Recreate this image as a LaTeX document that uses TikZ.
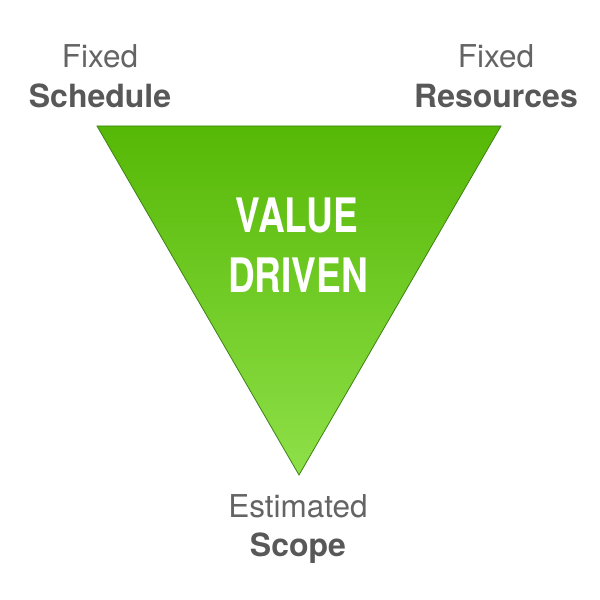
\documentclass[tikz,border=0pt]{standalone}
\usepackage{fontspec}
\setmainfont{TeX Gyre Heros}
\newfontfamily\condfont[FakeStretch=0.78]{TeX Gyre Heros}
\definecolor{gtop}{RGB}{86,184,6}
\definecolor{gbot}{RGB}{142,224,72}
\definecolor{gedge}{RGB}{60,130,20}
\definecolor{lightgray}{RGB}{100,100,100}
\definecolor{darkgray}{RGB}{88,88,88}
\tikzset{
  thin label/.style={anchor=base, inner sep=0pt, text=lightgray, font=\fontsize{31.5}{37}\selectfont},
  bold label/.style={anchor=base, inner sep=0pt, text=darkgray, font=\fontsize{32}{37}\selectfont\bfseries},
  center text/.style={anchor=base, inner sep=0pt, text=white, font=\condfont\fontsize{47.5}{56}\selectfont\bfseries}
}
\begin{document}
\begin{tikzpicture}[x=1pt,y=1pt]
\useasboundingbox (0,0) rectangle (600,600);
\coordinate (tl) at (97,474);
\coordinate (tr) at (501,474);
\coordinate (tip) at (299,125);
\shade[top color=gtop, bottom color=gbot, draw=gedge, line width=0.8pt] (tl) -- (tr) -- (tip) -- cycle;
\node[center text] (value) at (297,367) {VALUE};
\node[center text] (driven) at (298,307) {DRIVEN};
\node[thin label] (fixedL) at (100,532) {Fixed};
\node[bold label] (schedule) at (100,492) {Schedule};
\node[thin label] (fixedR) at (496,532) {Fixed};
\node[bold label] (resources) at (496,492) {Resources};
\node[thin label] (estimated) at (298,82) {Estimated};
\node[bold label] (scope) at (298,43) {Scope};
\end{tikzpicture}
\end{document}
